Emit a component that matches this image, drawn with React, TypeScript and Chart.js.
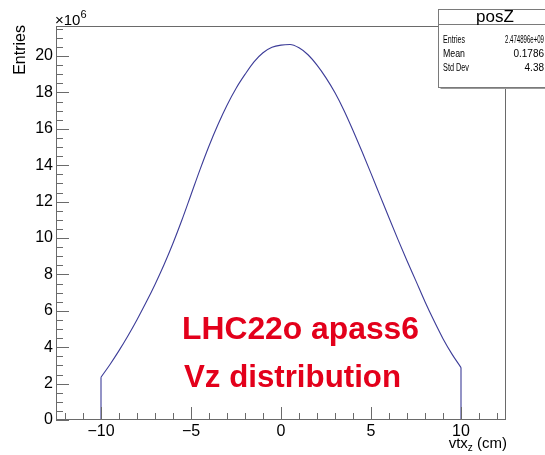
import React, { useEffect, useRef } from "react";
import { Chart, registerables } from "chart.js";

Chart.register(...registerables);

// Histogram of vtx_z, values in units of 10^6 entries, read at 0.5 cm steps
const binCenters = [
  -10, -9.5, -9, -8.5, -8, -7.5, -7, -6.5, -6, -5.5, -5, -4.5, -4, -3.5, -3, -2.5, -2, -1.5, -1, -0.5,
  0, 0.5, 1, 1.5, 2, 2.5, 3, 3.5, 4, 4.5, 5, 5.5, 6, 6.5, 7, 7.5, 8, 8.5, 9, 9.5, 10,
];
const entriesMillions = [
  2.35, 3.05, 3.81, 4.63, 5.51, 6.45, 7.45, 8.53, 9.71, 11.0, 12.38, 13.76, 15.06, 16.24, 17.3, 18.22,
  18.99, 19.68, 20.18, 20.48, 20.6, 20.63, 20.45, 20.07, 19.5, 18.8, 17.98, 17.01, 15.91, 14.75, 13.55,
  12.33, 11.11, 9.91, 8.75, 7.63, 6.5, 5.45, 4.47, 3.62, 2.88,
];
const xAxisRange = [-12.5, 12.5];
const yAxisMax = 21.65;
const xTickValues = [-10, -5, 0, 5, 10];
const yTickValues = [0, 2, 4, 6, 8, 10, 12, 14, 16, 18, 20];
const statsTitle = "posZ";
const statsLabels = ["Entries", "Mean", "Std Dev"];
const statsValues = ["2.474896e+09", "0.1786", "4.38"];
const annotationLines = ["LHC22o apass6", "Vz distribution"];

const FONT = "'Liberation Sans', Arial, Helvetica, sans-serif";
const AXIS_COLOR = "#6a6a6a";
const LINE_COLOR = "#3c3c98";

const rootStylePlugin = {
  id: "rootStyle",
  afterDraw(chart: any) {
    const ctx = chart.ctx as CanvasRenderingContext2D;
    const area = chart.chartArea;
    const xs = chart.scales.x;
    const ys = chart.scales.y;
    ctx.save();

    // frame
    ctx.strokeStyle = AXIS_COLOR;
    ctx.lineWidth = 1;
    ctx.strokeRect(Math.round(area.left) + 0.5, Math.round(area.top) + 0.5, Math.round(area.right - area.left) - 1, Math.round(area.bottom - area.top) - 1);

    // x ticks (inside)
    ctx.beginPath();
    for (let v = Math.ceil(xAxisRange[0]); v <= xAxisRange[1]; v += 1) {
      const px = Math.round(xs.getPixelForValue(v)) + 0.5;
      const len = v % 5 === 0 ? 13 : 7;
      ctx.moveTo(px, area.bottom);
      ctx.lineTo(px, area.bottom - len);
    }
    // y ticks (inside)
    for (let v = 0; v <= yAxisMax; v += 0.5) {
      const py = Math.round(ys.getPixelForValue(v)) + 0.5;
      const len = v % 2 === 0 ? 13 : 7;
      ctx.moveTo(area.left, py);
      ctx.lineTo(area.left + len, py);
    }
    ctx.stroke();

    // x10^6 multiplier
    ctx.fillStyle = "#000";
    ctx.textAlign = "left";
    ctx.textBaseline = "alphabetic";
    ctx.font = `15px ${FONT}`;
    ctx.fillText("\u00d710", area.left - 1, area.top - 1);
    const w = ctx.measureText("\u00d710").width;
    ctx.font = `11px ${FONT}`;
    ctx.fillText("6", area.left - 1 + w, area.top - 8);

    // y title
    ctx.save();
    ctx.translate(25, area.top - 1);
    ctx.rotate(-Math.PI / 2);
    ctx.textAlign = "right";
    ctx.font = `16px ${FONT}`;
    ctx.fillText("Entries", 0, 0);
    ctx.restore();

    // x title: vtx_z (cm)
    const tail = " (cm)";
    const head = "vtx";
    ctx.font = `15px ${FONT}`;
    const wTail = ctx.measureText(tail).width;
    const wHead = ctx.measureText(head).width;
    ctx.font = `10px ${FONT}`;
    const wSub = ctx.measureText("z").width;
    const right = area.right + 1;
    const base = 448;
    ctx.font = `15px ${FONT}`;
    ctx.fillText(tail, right - wTail, base);
    ctx.fillText(head, right - wTail - wSub - wHead, base);
    ctx.font = `10px ${FONT}`;
    ctx.fillText("z", right - wTail - wSub, base + 3);

    // stats box
    const bx = 438.5, by = 9.5, bw = 114, bh = 78;
    ctx.fillStyle = "#9a9a9a";
    ctx.fillRect(bx + 2, by + bh, bw, 1.5);
    ctx.fillStyle = "#fff";
    ctx.fillRect(bx, by, bw, bh);
    ctx.strokeStyle = "#7a7a7a";
    ctx.strokeRect(bx, by, bw, bh);
    ctx.beginPath();
    ctx.moveTo(bx, 24.5);
    ctx.lineTo(bx + bw, 24.5);
    ctx.stroke();
    ctx.fillStyle = "#000";
    ctx.textAlign = "center";
    ctx.font = `17px ${FONT}`;
    ctx.fillText(statsTitle, 495, 22);
    ctx.font = `10px ${FONT}`;
    statsLabels.forEach((lab, i) => {
      const yb = 42.5 + i * 14.3;
      ctx.textAlign = "left";
      ctx.fillText(lab, 443, yb, lab === "Std Dev" ? 26 : 22);
      ctx.textAlign = "right";
      ctx.fillText(statsValues[i], 544, yb, 39);
    });

    // red annotation
    ctx.fillStyle = "#e3001b";
    ctx.textAlign = "left";
    ctx.font = `bold 32px ${FONT}`;
    ctx.fillText(annotationLines[0], 182, 339, 237);
    ctx.fillText(annotationLines[1], 184, 387, 217);

    ctx.restore();
  },
};

export default function App() {
  const ref = useRef<HTMLCanvasElement | null>(null);

  useEffect(() => {
    if (!ref.current) return;
    const n = binCenters.length;
    const curve = binCenters.map((x, i) => ({ x, y: entriesMillions[i] }));
    // vertical histogram edges at the first and last bin, down to zero
    const leftEdge = [
      { x: binCenters[0], y: 0 },
      { x: binCenters[0], y: entriesMillions[0] },
    ];
    const rightEdge = [
      { x: binCenters[n - 1], y: entriesMillions[n - 1] },
      { x: binCenters[n - 1], y: 0 },
    ];
    const fmt = (v: number) => (v < 0 ? "\u2212" + Math.abs(v) : String(v));
    const lineStyle = {
      borderColor: LINE_COLOR,
      borderWidth: 1.1,
      pointRadius: 0,
      fill: false,
    };
    const chart = new Chart(ref.current, {
      type: "line",
      data: {
        datasets: [
          { ...lineStyle, data: curve, cubicInterpolationMode: "monotone" as const },
          { ...lineStyle, data: leftEdge, tension: 0 },
          { ...lineStyle, data: rightEdge, tension: 0 },
        ],
      },
      options: {
        animation: false,
        responsive: false,
        layout: { padding: { left: 0, right: 39, top: 26, bottom: 0 } },
        plugins: { legend: { display: false }, tooltip: { enabled: false } },
        scales: {
          x: {
            type: "linear",
            min: xAxisRange[0],
            max: xAxisRange[1],
            grid: { display: false, drawTicks: false },
            border: { display: false },
            afterBuildTicks: (s: any) => {
              s.ticks = xTickValues.map((value) => ({ value }));
            },
            afterFit: (s: any) => {
              s.height = 35;
            },
            ticks: {
              padding: 2,
              autoSkip: false,
              maxRotation: 0,
              color: "#000",
              font: { family: FONT, size: 16 },
              callback: (v: any) => fmt(Number(v)),
            },
          },
          y: {
            type: "linear",
            min: 0,
            max: yAxisMax,
            grid: { display: false, drawTicks: false },
            border: { display: false },
            afterBuildTicks: (s: any) => {
              s.ticks = yTickValues.map((value) => ({ value }));
            },
            afterFit: (s: any) => {
              s.width = 56;
            },
            ticks: {
              padding: 3,
              autoSkip: false,
              color: "#000",
              font: { family: FONT, size: 16 },
              callback: (v: any) => fmt(Number(v)),
            },
          },
        },
      },
      plugins: [rootStylePlugin],
    });
    return () => chart.destroy();
  }, []);

  return (
    <div style={{ position: "absolute", left: 0, top: 0, width: 545, height: 455, background: "#fff" }}>
      <canvas ref={ref} width={545} height={455} style={{ display: "block", width: 545, height: 455 }} />
    </div>
  );
}
